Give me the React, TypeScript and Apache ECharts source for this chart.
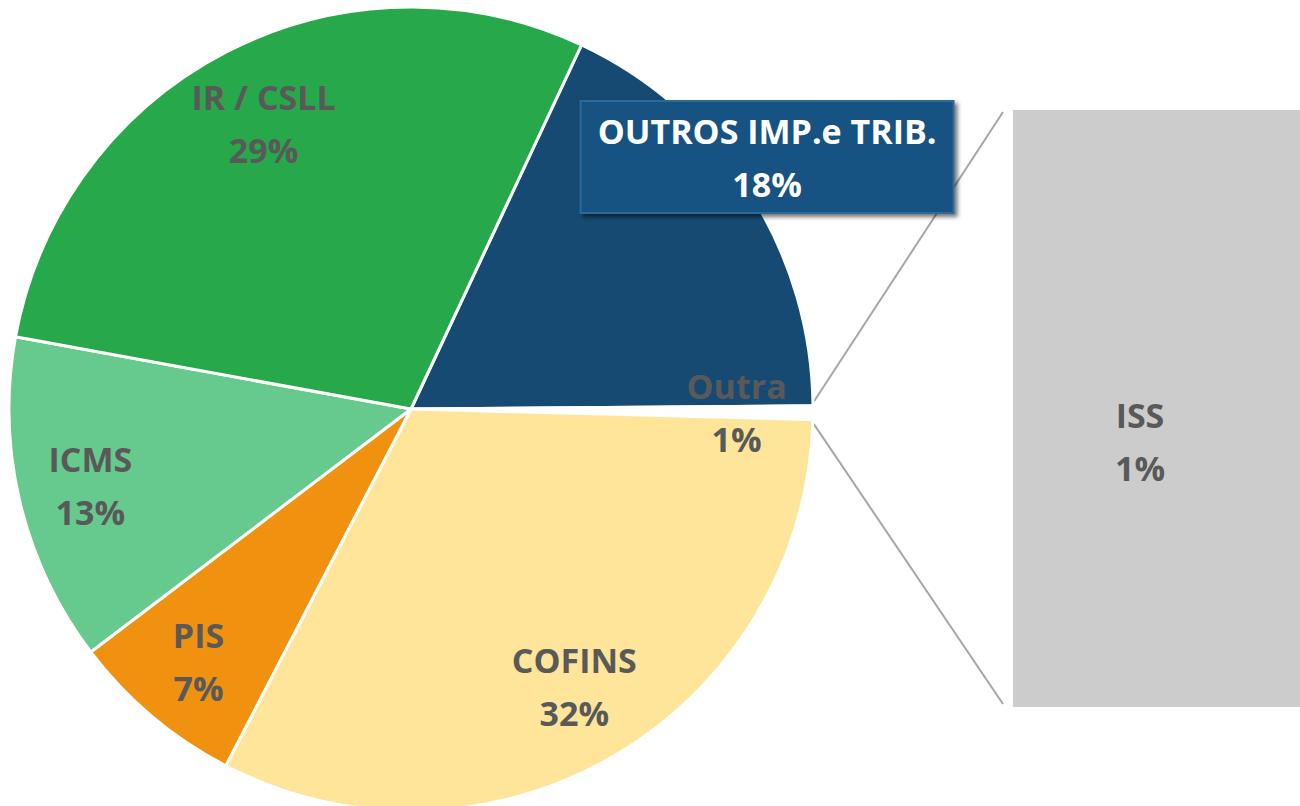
import React, { useEffect, useRef } from "react";
import * as echarts from "echarts";

// ---- data ----
const categories = ["OUTROS IMP.e TRIB.", "Outra", "COFINS", "PIS", "ICMS", "IR / CSLL"];
const values = [17.9, 0.55, 32.2, 7.05, 13.2, 29.1];
const sliceColors = ["#164a72", "#ffffff", "#fee599", "#f0920f", "#66c98d", "#27a84a"];
const barCategories = ["ISS"];
const barValues = [1];

// ---- layout (not data) ----
const CX = 411;
const CY = 409;
const R = 402;
const START_CLOCK = 25.1; // degrees clockwise from 12 o'clock
const labelRadius = [1.085, 0.81, 0.8, 0.82, 0.82, 0.8];
const labelAngleShift = [-2.6, 0, 0, 0, 0, 0];
const GRID = { left: 1013, top: 110, width: 320, height: 597 };
const FONT = "'Open Sans', 'Noto Sans', sans-serif";
const GRAY = "#595959";
const FS = 34;

const total = values.reduce((a, b) => a + b, 0);
const startAngles: number[] = [];
const midAngles: number[] = [];
{
  let cum = 0;
  values.forEach((v) => {
    startAngles.push(START_CLOCK + (360 * cum) / total);
    midAngles.push(START_CLOCK + (360 * (cum + v / 2)) / total);
    cum += v;
  });
}
const pct = (v: number) => Math.round((100 * v) / total) + "%";

export default function App() {
  const ref = useRef<HTMLDivElement>(null);
  useEffect(() => {
    if (!ref.current) return;
    const chart = echarts.init(ref.current, undefined, { renderer: "svg" });

    const outraIdx = 1;
    const a1 = ((startAngles[outraIdx] - 0.6) * Math.PI) / 180;
    const a2 = ((startAngles[outraIdx] + (360 * values[outraIdx]) / total + 0.6) * Math.PI) / 180;
    const pTop = [CX + (R + 1) * Math.sin(a1), CY - (R + 1) * Math.cos(a1)];
    const pBot = [CX + (R + 1) * Math.sin(a2), CY - (R + 1) * Math.cos(a2)];
    const barLeft = GRID.left - 10;

    const pieData = categories.map((name, i) => {
      const item: any = {
        name,
        value: values[i],
        itemStyle: { color: sliceColors[i] },
      };
      if (i === 0) {
        item.label = {
          color: "#ffffff",
          backgroundColor: "#185282",
          borderColor: "#2e6b99",
          borderWidth: 2,
          padding: [2, 6],
          width: 359,
          shadowColor: "rgba(0,0,0,0.55)",
          shadowBlur: 4,
          shadowOffsetX: 3,
          shadowOffsetY: 3,
        };
      }
      return item;
    });

    chart.setOption({
      animation: false,
      backgroundColor: "#ffffff",
      grid: { left: GRID.left, top: GRID.top, width: GRID.width, height: GRID.height },
      xAxis: { type: "category", data: barCategories, show: false },
      yAxis: { type: "value", min: 0, max: 1, show: false },
      graphic: [
        {
          type: "line",
          shape: { x1: pTop[0], y1: pTop[1], x2: barLeft, y2: GRID.top + 2 },
          style: { stroke: "#a6a6a6", lineWidth: 2 },
        },
        {
          type: "line",
          shape: { x1: pBot[0], y1: pBot[1], x2: barLeft, y2: GRID.top + GRID.height - 3 },
          style: { stroke: "#a6a6a6", lineWidth: 2 },
        },
      ],
      series: [
        {
          type: "pie",
          center: [CX, CY],
          radius: [0, R],
          startAngle: 90 - START_CLOCK,
          clockwise: true,
          avoidLabelOverlap: false,
          itemStyle: { borderColor: "#ffffff", borderWidth: 3 },
          label: {
            show: true,
            position: "inside",
            formatter: (p: any) => `${p.name}\n${pct(p.value)}`,
            fontFamily: FONT,
            fontWeight: "bold",
            fontSize: FS,
            lineHeight: 53,
            color: GRAY,
            align: "center",
          },
          labelLine: { show: false },
          labelLayout: (params: any) => {
            const i = params.dataIndex;
            const a = ((midAngles[i] + labelAngleShift[i]) * Math.PI) / 180;
            const r = R * labelRadius[i];
            return {
              x: CX + r * Math.sin(a),
              y: CY - r * Math.cos(a),
              align: "center",
              verticalAlign: "middle",
            };
          },
          data: pieData,
        },
        {
          type: "bar",
          data: barValues,
          barWidth: "100%",
          itemStyle: { color: "#cccccc" },
          label: {
            show: true,
            position: [127, 331],
            align: "center",
            verticalAlign: "middle",
            formatter: (p: any) => `${p.name}\n${pct(values[outraIdx])}`,
            fontFamily: FONT,
            fontWeight: "bold",
            fontSize: FS,
            lineHeight: 53,
            color: GRAY,
          },
        },
      ],
    });
    return () => chart.dispose();
  }, []);

  return (
    <div
      ref={ref}
      style={{ position: "absolute", left: 0, top: 0, width: 1300, height: 806 }}
    />
  );
}
